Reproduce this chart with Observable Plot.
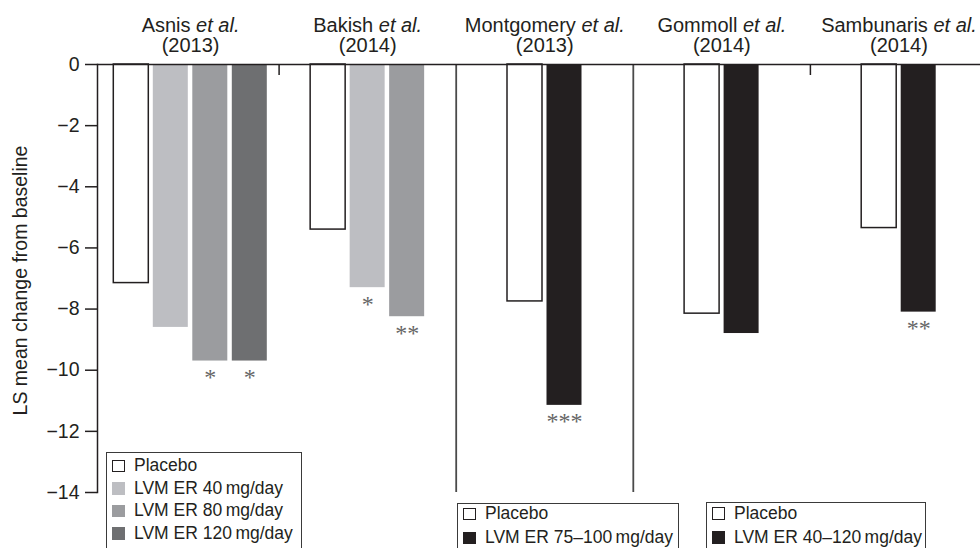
<!DOCTYPE html>
<html><head><meta charset="utf-8">
<script src="https://cdn.jsdelivr.net/npm/d3@7"></script>
<script src="https://cdn.jsdelivr.net/npm/@observablehq/plot@0.6"></script>
<style>
html,body{margin:0;padding:0;background:#fff;overflow:hidden}
#wrap{position:relative;width:980px;height:548px;font-family:"Liberation Sans",Arial,sans-serif;color:#231f20}
#wrap svg{position:absolute;left:0;top:0}
.legend{position:absolute;background:#fff;border:1.5px solid #3a3a3a;box-sizing:border-box;font-size:17.5px;overflow:hidden}
.legend .row{position:absolute;left:5px;white-space:nowrap;line-height:1}
.sw{display:inline-block;box-sizing:border-box;width:13px;height:12.5px;vertical-align:-1px;margin-right:9px}
</style></head>
<body><div id="wrap"></div>
<script>
// ---- data ----
const studies = ["Asnis", "Bakish", "Montgomery", "Gommoll", "Sambunaris"];
const years = [2013, 2014, 2013, 2014, 2014];
const series = ["Placebo", "LVM ER 40\u2009mg/day", "LVM ER 80\u2009mg/day", "LVM ER 120\u2009mg/day", "LVM ER 75\u2013100\u2009mg/day", "LVM ER 40\u2013120\u2009mg/day"];
const barStudy = ["Asnis","Asnis","Asnis","Asnis","Bakish","Bakish","Bakish","Montgomery","Montgomery","Gommoll","Gommoll","Sambunaris","Sambunaris"];
const barSeries = [series[0],series[1],series[2],series[3],series[0],series[1],series[2],series[0],series[4],series[0],series[5],series[0],series[5]];
const barValue = [-7.15,-8.6,-9.7,-9.7,-5.4,-7.3,-8.25,-7.75,-11.15,-8.15,-8.8,-5.35,-8.1];
const barSig = ["","","*","*","","*","**","","***","","","","**"];
const yTicks = [0,-2,-4,-6,-8,-10,-12,-14];
const yLabel = "LS mean change from baseline";
const legend1 = [series[0], series[1], series[2], series[3]];
const legend2 = [series[0], series[4]];
const legend3 = [series[0], series[5]];
// separators between studies: short tick or full-height line
const separatorKind = ["short", "full", "full", "short"];

// ---- styles ----
const palette = ["#ffffff", "#bdbec2", "#9b9c9f", "#6e6f71", "#231f20", "#231f20"];
const ink = "#231f20";

// ---- layout (px) ----
const W = 980, H = 548;
const xRange = [101.5, 987];
const unit = (xRange[1] - xRange[0]) / studies.length;
const stepU = 39.5 / unit, widthU = 35 / unit;

// build table
const counts = d3.rollup(barStudy, v => v.length, d => d);
const seen = new Map();
const bars = barValue.map((v, k) => {
  const s = barStudy[k];
  const g = studies.indexOf(s);
  const i = seen.get(s) ?? 0; seen.set(s, i + 1);
  const n = counts.get(s);
  const c = g + 0.5 + (i - (n - 1) / 2) * stepU;
  return {study: s, series: barSeries[k], value: v, sig: barSig[k], cx: c, x1: c - widthU / 2, x2: c + widthU / 2};
});
const titles = studies.map((s, g) => ({pos: g + 0.5, text: `${s} et al.\n(${years[g]})`}));
const seps = separatorKind.map((k, i) => ({pos: i + 1, kind: k}));
const minus = d => d < 0 ? "\u2212" + Math.abs(d) : String(d);

const chart = Plot.plot({
  width: W, height: H,
  marginLeft: 97, marginRight: 0, marginTop: 64, marginBottom: 56,
  style: {fontFamily: '"Liberation Sans", Arial, sans-serif', fontSize: "19px", color: ink, background: "white", overflow: "visible"},
  x: {domain: [0, studies.length], range: xRange, axis: null},
  y: {domain: [-14, 0], axis: null},
  color: {domain: series, range: palette},
  marks: [
    Plot.rectY(bars.filter(d => d.series === series[0]), {x1: "x1", x2: "x2", y1: 0, y2: "value", fill: "white", stroke: ink, strokeWidth: 1.5}),
    Plot.rectY(bars.filter(d => d.series !== series[0]), {x1: "x1", x2: "x2", y1: 0, y2: "value", fill: "series"}),
    Plot.ruleX(seps.filter(d => d.kind === "full"), {x: "pos", y1: 0, y2: -14, stroke: "#4a4a4a", strokeWidth: 1.8}),
    Plot.ruleX(seps.filter(d => d.kind === "short"), {x: "pos", y1: 0, y2: 0, insetBottom: -11, stroke: ink, strokeWidth: 1.5}),
    Plot.ruleY([0], {stroke: ink, strokeWidth: 1.5}),
    Plot.frame({anchor: "left", stroke: ink, strokeWidth: 1.5}),
    Plot.axisY({ticks: yTicks, tickFormat: minus, tickSize: 12, tickPadding: 6, label: null, strokeWidth: 1.5, fontSize: 19.5}),
    Plot.text(bars.filter(d => d.sig), {x: "cx", y: "value", text: "sig", lineAnchor: "top", dy: 7, fontFamily: '"Liberation Serif", "Times New Roman", serif', fontSize: 24, fill: "#666"}),
    Plot.text(titles, {x: "pos", text: "text", frameAnchor: "top", lineAnchor: "bottom", lineHeight: 1, dy: -13, fontSize: 20, fill: ink}),
    Plot.text([yLabel], {frameAnchor: "left", textAnchor: "middle", dx: -77, dy: 2, rotate: -90, fontSize: 19.5, fill: ink})
  ]
});

// italicise "et al."
chart.querySelectorAll("text, tspan").forEach(el => {
  for (const node of [...el.childNodes]) {
    if (node.nodeType === 3 && node.textContent.includes("et al.")) {
      const [before, after] = node.textContent.split("et al.");
      const it = document.createElementNS("http://www.w3.org/2000/svg", "tspan");
      it.setAttribute("font-style", "italic");
      it.textContent = "et al.";
      el.insertBefore(document.createTextNode(before), node);
      el.insertBefore(it, node);
      node.textContent = after;
    }
  }
});

const wrap = document.getElementById("wrap");
wrap.appendChild(chart);

function addLegend(items, box) {
  const div = document.createElement("div");
  div.className = "legend";
  Object.assign(div.style, {left: box.left + "px", top: box.top + "px", width: box.width + "px", height: box.height + "px"});
  items.forEach((name, i) => {
    const row = document.createElement("div");
    row.className = "row";
    row.style.top = (box.pad + i * box.rowH) + "px";
    const sw = document.createElement("span");
    sw.className = "sw";
    const col = palette[series.indexOf(name)];
    sw.style.background = col;
    sw.style.border = name === series[0] ? `1.5px solid ${ink}` : "none";
    row.appendChild(sw);
    row.appendChild(document.createTextNode(name));
    div.appendChild(row);
  });
  wrap.appendChild(div);
}
addLegend(legend1, {left: 106, top: 452, width: 196, height: 110, pad: 4.4, rowH: 22.4});
addLegend(legend2, {left: 457, top: 503, width: 222, height: 70, pad: 1, rowH: 24});
addLegend(legend3, {left: 706, top: 502, width: 220, height: 70, pad: 1.5, rowH: 24});
</script>
</body></html>
